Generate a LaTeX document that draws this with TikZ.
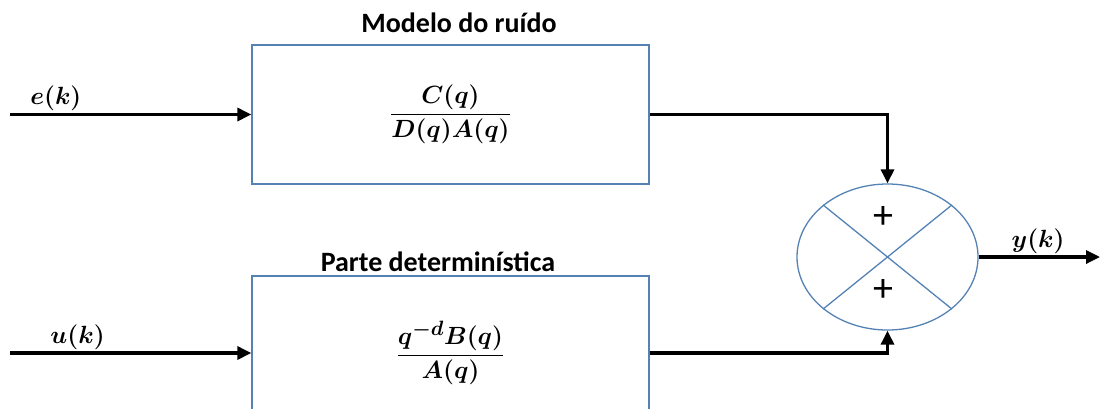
\documentclass[tikz,border=0pt]{standalone}
\usepackage{amsmath,bm}
\usepackage{fontspec}
\setmainfont{Carlito}
\usetikzlibrary{arrows.meta,shapes.geometric}
\definecolor{boxBlue}{RGB}{84,130,180}

\begin{document}
\begin{tikzpicture}[x=1pt,y=-1pt,
    block/.style={draw=boxBlue, line width=1.3pt, minimum width=397pt, inner sep=0pt, font=\fontsize{29}{32}\selectfont},
    flow/.style={-{Triangle[length=14pt,width=13pt]}, line width=3.2pt},
    sig/.style={font=\fontsize{30}{33}\selectfont, inner sep=2pt},
    ttl/.style={font=\fontsize{28}{31}\selectfont\bfseries}]
  \useasboundingbox (0,0) rectangle (1102,408);
  \clip (0,0) rectangle (1102,408);
  % blocks
  \node[block, minimum height=139pt] (noise) at (450.5,114.5) {$\dfrac{\bm{C(q)}}{\bm{D(q)A(q)}}$};
  \node[block, minimum height=154pt] (det) at (450.5,353) {$\dfrac{\bm{q^{-d}B(q)}}{\bm{A(q)}}$};
  \node[ttl] (noiseTitle) at (459,23) {Modelo do ruído};
  \node[ttl] (detTitle) at (438,262) {Parte determinística};
  % summing junction
  \node[draw=boxBlue, line width=1.3pt, ellipse, minimum width=181pt, minimum height=146pt, inner sep=0pt] (sum) at (887.5,257) {};
  \draw[boxBlue, line width=1.3pt] (sum.north west) -- (sum.south east);
  \draw[boxBlue, line width=1.3pt] (sum.north east) -- (sum.south west);
  \node[font=\fontsize{40}{42}\selectfont] (plusA) at (883,217) {+};
  \node[font=\fontsize{40}{42}\selectfont] (plusB) at (883,290) {+};
  % signals
  \coordinate (ein) at (10,114.5);
  \coordinate (uin) at (10,353);
  \coordinate (yout) at (1100,257);
  \draw[flow] (ein) -- node[sig, above, pos=0.19] {$\bm{e(k)}$} (noise.west);
  \draw[flow] (uin) -- node[sig, above, pos=0.28] {$\bm{u(k)}$} (det.west);
  \draw[flow] (noise.east) -| (sum.north);
  \draw[flow] (det.east) -| (sum.south);
  \draw[flow] (sum.east) -- node[sig, above, pos=0.49] {$\bm{y(k)}$} (yout);
\end{tikzpicture}
\end{document}
